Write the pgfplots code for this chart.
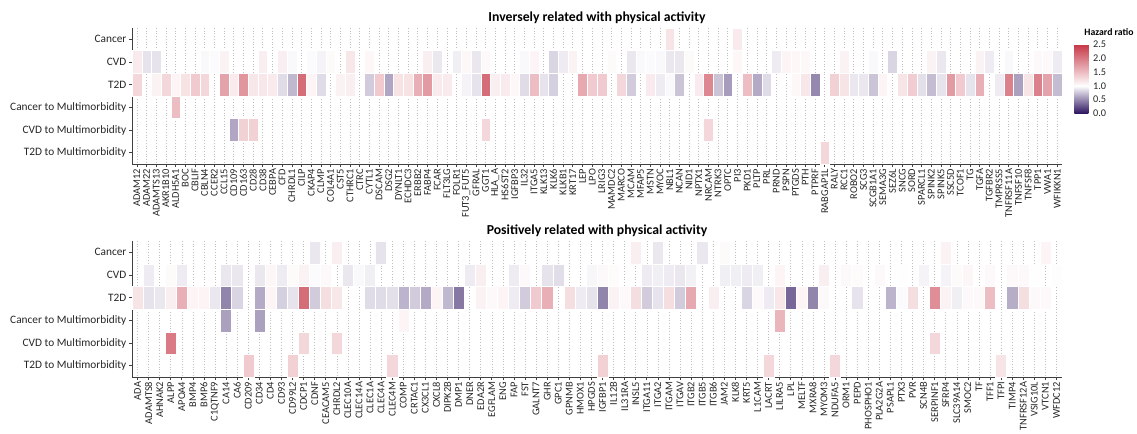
\documentclass[border=0pt]{standalone}
\usepackage{pgfplots}
\pgfplotsset{compat=1.18}
\usepackage{pgfplotstable}
\usepackage{fontspec}
\setmainfont{Carlito}

% hazard ratios, proteins inversely related with physical activity
% x = protein index, y = outcome row (0 Cancer ... 5 T2D to Multimorbidity)
\pgfplotstableread{
x y hr
56 0 1.20
63 0 1.15
1 1 1.15
2 1 0.88
3 1 0.88
8 1 0.97
9 1 0.98
10 1 1.10
14 1 1.12
16 1 1.12
17 1 0.97
19 1 0.98
20 1 0.95
21 1 1.04
23 1 1.18
25 1 1.06
31 1 1.12
32 1 0.90
34 1 0.93
35 1 1.06
36 1 0.90
37 1 1.05
41 1 0.97
42 1 1.08
44 1 0.82
45 1 0.92
46 1 1.10
50 1 1.04
52 1 0.90
53 1 0.97
54 1 0.98
55 1 0.97
56 1 0.90
57 1 0.90
58 1 1.04
63 1 1.06
67 1 0.92
68 1 1.08
69 1 1.06
70 1 1.06
74 1 1.10
77 1 0.97
79 1 0.82
83 1 1.10
84 1 0.90
88 1 1.10
89 1 0.92
91 1 0.97
94 1 1.05
95 1 1.05
96 1 0.92
1 2 1.30
3 2 1.10
4 2 1.30
5 2 1.08
6 2 1.22
7 2 1.40
8 2 1.30
10 2 1.70
11 2 1.15
12 2 1.80
13 2 1.18
14 2 1.18
15 2 1.15
16 2 0.85
17 2 0.70
18 2 2.10
19 2 1.08
20 2 0.85
22 2 1.10
23 2 1.12
25 2 0.78
26 2 1.40
27 2 0.62
28 2 1.22
29 2 1.22
30 2 1.60
31 2 1.75
32 2 1.15
33 2 1.15
35 2 0.95
36 2 0.88
37 2 2.10
38 2 1.12
39 2 1.15
40 2 1.06
41 2 0.85
42 2 1.50
43 2 0.88
44 2 0.80
47 2 1.65
48 2 1.40
49 2 1.40
51 2 1.30
52 2 0.78
54 2 1.15
55 2 0.92
56 2 0.97
57 2 0.75
59 2 1.15
60 2 1.90
61 2 0.75
62 2 0.58
64 2 1.50
65 2 0.64
66 2 0.85
69 2 1.06
70 2 1.18
71 2 0.50
73 2 1.35
74 2 1.20
75 2 0.90
76 2 0.90
77 2 0.75
78 2 1.08
80 2 1.20
81 2 1.38
82 2 0.87
83 2 0.72
84 2 0.88
85 2 1.75
86 2 1.40
87 2 0.88
88 2 1.60
90 2 0.92
91 2 1.95
92 2 0.60
93 2 1.20
94 2 1.95
95 2 1.70
96 2 0.72
5 3 1.50
11 4 0.62
12 4 1.35
13 4 1.35
37 4 1.30
60 4 1.30
72 5 1.30
}\inversedata

% hazard ratios, proteins positively related with physical activity
\pgfplotstableread{
x y hr
17 0 0.90
19 0 1.12
23 0 0.88
46 0 1.12
48 0 0.90
52 0 0.90
54 0 1.04
74 0 1.10
83 0 1.08
2 1 0.92
4 1 1.04
5 1 0.92
9 1 0.90
10 1 0.90
12 1 0.90
13 1 1.07
14 1 0.92
15 1 1.04
16 1 1.10
17 1 0.98
18 1 1.05
20 1 0.90
21 1 0.97
22 1 0.93
31 1 0.92
32 1 1.12
35 1 0.92
36 1 1.05
38 1 0.88
39 1 0.86
42 1 0.96
43 1 1.05
44 1 1.03
47 1 0.92
48 1 0.93
49 1 0.92
50 1 0.90
51 1 0.94
54 1 0.93
55 1 0.93
56 1 0.92
57 1 0.93
59 1 1.08
63 1 1.12
65 1 1.05
66 1 1.03
68 1 1.05
70 1 1.01
72 1 0.95
74 1 0.95
75 1 1.04
76 1 1.07
78 1 1.05
80 1 1.05
81 1 1.05
82 1 1.01
84 1 0.99
1 2 1.20
2 2 0.88
3 2 0.90
4 2 1.12
5 2 1.60
6 2 1.08
7 2 1.08
8 2 0.90
9 2 0.48
10 2 0.82
12 2 0.64
13 2 1.08
14 2 0.80
15 2 0.88
16 2 2.10
17 2 0.78
18 2 1.25
19 2 1.18
22 2 0.85
23 2 0.85
24 2 0.87
25 2 0.68
26 2 0.78
27 2 0.64
28 2 1.08
29 2 0.70
30 2 0.42
32 2 1.10
33 2 1.05
34 2 1.08
35 2 0.92
36 2 0.78
37 2 1.40
38 2 1.60
40 2 1.25
41 2 0.92
42 2 0.88
43 2 0.48
44 2 1.10
45 2 1.05
46 2 1.25
47 2 0.78
48 2 0.88
49 2 1.25
50 2 0.78
51 2 1.65
53 2 1.12
56 2 0.82
57 2 1.05
58 2 0.92
59 2 1.18
60 2 0.35
61 2 1.08
62 2 0.48
63 2 1.05
66 2 0.88
69 2 0.68
70 2 0.98
71 2 1.25
73 2 1.85
74 2 1.10
75 2 0.93
76 2 1.05
77 2 1.05
78 2 1.50
80 2 0.65
81 2 1.25
82 2 1.05
83 2 1.05
9 3 0.60
12 3 0.60
25 3 1.08
59 3 1.55
4 4 2.00
16 4 1.30
19 4 1.30
73 4 1.30
11 5 1.40
15 5 1.35
24 5 1.30
43 5 1.35
58 5 1.30
64 5 1.30
79 5 1.20
}\positivedata

% one tile per protein and outcome
\pgfdeclareplotmark{tileA}{%
  \pgfpathrectangle{\pgfpoint{-3.6328pt}{-8.5pt}}{\pgfpoint{7.2656pt}{17pt}}%
  \pgfusepathqfillstroke}
\pgfdeclareplotmark{tileB}{%
  \pgfpathrectangle{\pgfpoint{-4.1518pt}{-8.5pt}}{\pgfpoint{8.3036pt}{17pt}}%
  \pgfusepathqfillstroke}

\pgfplotsset{
  colormap={hr}{rgb255(0cm)=(46,20,96); rgb255(4cm)=(255,255,255); rgb255(10cm)=(198,56,72)},
  heat/.style={
    scale only axis, width=697.5pt, height=102pt,
    anchor=north west,
    y dir=reverse, ymin=-0.5, ymax=5.5, ytick={0,...,5},
    yticklabels={Cancer, CVD, T2D, Cancer to Multimorbidity, CVD to Multimorbidity, T2D to Multimorbidity},
    xmin=0.5,
    axis x line*=bottom, axis y line*=left,
    axis line style={-, black!75, line width=0.6pt},
    xmajorgrids,
    major x grid style={gray!50, line width=0.45pt, dash pattern=on 0.45pt off 1.6pt},
    tick align=outside, major tick length=2pt,
    tick style={black!75, line width=0.5pt},
    xticklabel style={rotate=90, anchor=east, font=\fontsize{7.8}{8}\selectfont, inner sep=1.5pt},
    yticklabel style={font=\fontsize{8.5}{9}\selectfont, inner sep=2pt},
    tick label style={text=black!85},
    every axis title shift=0pt,
    title style={font=\bfseries\fontsize{10.3}{11}\selectfont, at={(0.5,1)}, anchor=base, yshift=5pt},
    point meta min=0, point meta max=2.5,
    colormap name=hr,
  },
  tiles/.style={scatter, only marks, mark=#1, scatter src=explicit,
    scatter/use mapped color={draw=white, fill=mapped color},
    mark options={line width=0.25pt}},
}

\begin{document}
\begin{tikzpicture}
\useasboundingbox (0pt,0pt) rectangle (852.75pt,-325.5pt);

\begin{scope}
\clip (0pt,0pt) rectangle (852.75pt,-164.5pt);
\begin{axis}[heat,
  at={(99pt,-21pt)},
  title={Inversely related with physical activity},
  xmax=96.5, xtick={1,...,96},
  xticklabels={ADAM12,ADAM22,ADAMTS13,AKR1B10,ALDH5A1,BOC,CBLIF,CBLN4,CCER2,CCL15,CD109,CD163,CD28,CD38,CEBPA,CFD,CHRDL1,CILP,CKAP4,CLMP,COL4A1,CST5,CTHRC1,CTRC,CYTL1,DSCAM,DSG2,DYNLT1,ECHDC3,ERBB2,FABP4,FCAR,FLT3LG,FOLR1,FUT3\_FUT5,GFRAL,GGT1,HLA\_A,HS6ST2,IGFBP3,IL32,ITGA5,KLK13,KLK6,KLKB1,KRT17,LEP,LPO,LRIG3,MAMDC2,MARCO,MCAM,MFAP5,MSTN,MYOC,NBL1,NCAN,NID1,NPTX1,NRCAM,NTRK3,OPTC,PI3,PKD1,PLTP,PRL,PRND,PSPN,PTGDS,PTH,PTPRF,RABGAP1L,RALY,RCC1,ROBO2,SCG3,SCGB1A1,SEMA3G,SEZ6L,SNCG,SORD,SPARCL1,SPINK2,SPINK5,SSC5D,TCOF1,TG,TGFA,TGFBR2,TMPRSS5,TNFRSF11A,TNFSF10,TNFSF8,TPP1,VWA1,WFIKKN1},
  colorbar,
  colorbar style={
    at={(parent axis.north east)}, anchor=north west,
    xshift=0.75pt, yshift=-12.5pt,
    scale only axis, width=10.5pt, height=51.5pt,
    ytick={0,0.5,1,1.5,2,2.5},
    axis line style={draw=none},
    major tick length=0pt,
    yticklabel style={font=\fontsize{7.7}{8}\selectfont, text=black!85,
      /pgf/number format/.cd, fixed, fixed zerofill, precision=1, assume math mode=true},
    every axis title shift=0pt,
    title={Hazard ratio},
    title style={font=\bfseries\fontsize{7.3}{8}\selectfont, at={(0,1)}, anchor=base west, xshift=4pt, yshift=6.5pt},
  },
]
\addplot[tiles=tileA] table[x=x, y=y, meta=hr] {\inversedata};
\end{axis}
\end{scope}

\begin{axis}[heat,
  at={(99pt,-180.75pt)},
  title={Positively related with physical activity},
  xmax=84.5, xtick={1,...,84},
  xticklabels={ADA,ADAMTS8,AHNAK2,ALPP,APOA4,BMP4,BMP6,C1QTNF9,CA14,CA6,CD209,CD34,CD4,CD93,CD99L2,CDCP1,CDNF,CEACAM5,CHRDL2,CLEC10A,CLEC14A,CLEC1A,CLEC4A,CLEC4M,COMP,CRTAC1,CX3CL1,CXCL8,DIPK2B,DMP1,DNER,EDA2R,EGFLAM,ENG,FAP,FST,GALNT7,GHR,GPC1,GPNMB,HMOX1,HPGDS,IGFBP1,IL12B,IL31RA,INSL5,ITGA11,ITGA2,ITGAM,ITGAV,ITGB2,ITGB5,ITGB6,JAM2,KLK8,KRT5,L1CAM,LACRT,LILRA5,LPL,MELTF,MXRA8,MYOM3,NDUFA5,ORM1,PEPD,PHOSPHO1,PLA2G2A,PSAPL1,PTX3,PVR,SCN4B,SERPINF1,SFRP4,SLC39A14,SMOC2,TF,TFF1,TFPI,TIMP4,TNFRSF12A,VSIG10L,VTCN1,WFDC12},
]
\addplot[tiles=tileB] table[x=x, y=y, meta=hr] {\positivedata};
\end{axis}
\end{tikzpicture}
\end{document}
